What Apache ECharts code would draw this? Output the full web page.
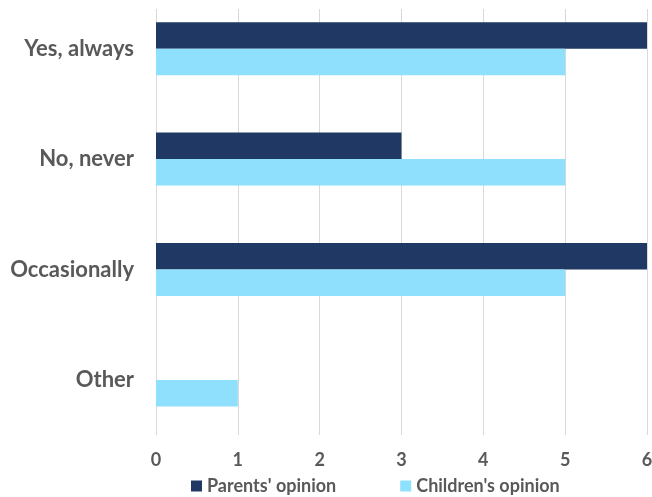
<!DOCTYPE html>
<html>
<head>
<meta charset="utf-8">
<script src="https://cdn.jsdelivr.net/npm/echarts@6/dist/echarts.min.js"></script>
<style>
  html, body { margin: 0; padding: 0; background: #fff; }
  #main { width: 652px; height: 497px; }
</style>
</head>
<body>
<div id="main"></div>
<script>
// data
var categories = ['Yes, always', 'No, never', 'Occasionally', 'Other'];
var parentsOpinion = [6, 3, 6, 0];
var childrenOpinion = [5, 5, 5, 1];
var seriesNames = ["Parents' opinion", "Children's opinion"];

var textColor = '#595959';
var fontName = 'Lato, Carlito, "Open Sans", sans-serif';

var myChart = echarts.init(document.getElementById('main'));

var option = {
    animation: false,
    color: ['#203864', '#8ee0fd'],
    grid: {
        left: 156,
        right: 5,
        top: -6.5,
        height: 441.6,
        outerBoundsMode: 'none',
        containLabel: false
    },
    // 顶部留白（网格线从 y=9 开始）
    graphic: [{
        type: 'rect',
        left: 0,
        top: 0,
        z: 100,
        shape: { width: 652, height: 9 },
        style: { fill: '#fff' }
    }],
    legend: {
        top: 472,
        left: 186,
        itemWidth: 11,
        itemHeight: 11,
        itemGap: 64,
        icon: 'rect',
        textStyle: { color: textColor, fontSize: 18, fontWeight: 'bold', fontFamily: fontName },
        data: seriesNames
    },
    xAxis: {
        type: 'value',
        min: 0,
        max: 6,
        interval: 1,
        axisLine: { show: false },
        axisTick: { show: false },
        splitLine: { lineStyle: { color: '#d9d9d9', width: 1 } },
        axisLabel: { color: textColor, fontSize: 18, fontWeight: 'bold', fontFamily: fontName, margin: 16 }
    },
    yAxis: {
        type: 'category',
        inverse: true,
        data: categories,
        axisLine: { show: false },
        axisTick: { show: false },
        axisLabel: { color: textColor, fontSize: 22, fontWeight: 'bold', fontFamily: fontName, margin: 22 }
    },
    series: [{
        name: seriesNames[0],
        type: 'bar',
        data: parentsOpinion,
        barGap: '0%',
        barCategoryGap: '52%'
    }, {
        name: seriesNames[1],
        type: 'bar',
        data: childrenOpinion,
        barGap: '0%',
        barCategoryGap: '52%'
    }]
};

myChart.setOption(option, true);

window.addEventListener('resize', function () {
    myChart.resize();
});
</script>
</body>
</html>
